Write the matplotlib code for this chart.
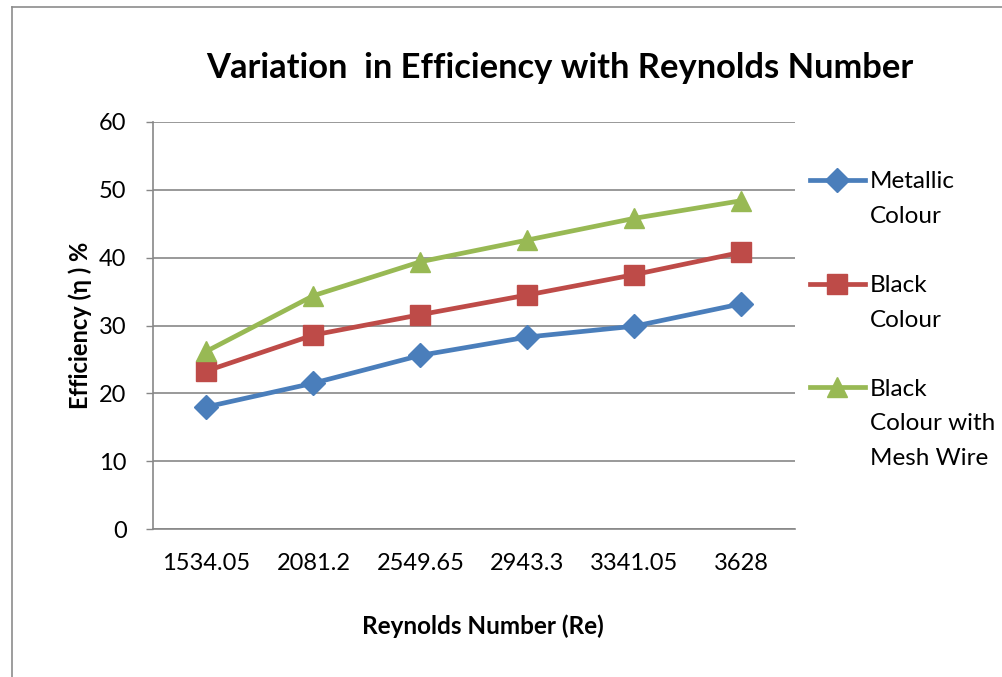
import matplotlib
matplotlib.use("Agg")
import matplotlib.pyplot as plt
from matplotlib.lines import Line2D

reynolds = ["1534.05", "2081.2", "2549.65", "2943.3", "3341.05", "3628"]
metallic = [18.0, 21.5, 25.6, 28.3, 29.9, 33.2]
black = [23.3, 28.6, 31.6, 34.5, 37.5, 40.8]
mesh_wire = [26.2, 34.4, 39.4, 42.6, 45.8, 48.4]

blue = "#4A7EBB"
red = "#BE4B48"
green = "#98B954"
grid_grey = "#878787"

plt.rcParams["font.family"] = ["Lato", "DejaVu Sans"]

fig = plt.figure(figsize=(10.03, 6.77), dpi=100)
ax = fig.add_axes([0.1525, 0.2186, 0.640, 0.6012])

x = list(range(len(reynolds)))
lw = 3.4
ax.plot(x, metallic, color=blue, lw=lw, marker="D", ms=12, zorder=3)
ax.plot(x, black, color=red, lw=lw, marker="s", ms=14, zorder=3)
ax.plot(x, mesh_wire, color=green, lw=lw, marker="^", ms=15, zorder=3)

ax.set_xlim(-0.5, len(reynolds) - 0.5)
ax.set_ylim(0, 60)
ax.set_yticks(range(0, 61, 10))
ax.set_xticks(x)
ax.set_xticklabels(reynolds)
ax.tick_params(axis="x", length=0, pad=17, labelsize=17)
ax.tick_params(axis="y", length=5, width=1, color=grid_grey, pad=14, labelsize=17)
ax.grid(axis="y", color=grid_grey, lw=1.2)
ax.set_axisbelow(True)
for side in ["top", "right"]:
    ax.spines[side].set_visible(False)
for side in ["left", "bottom"]:
    ax.spines[side].set_color(grid_grey)
    ax.spines[side].set_linewidth(1.2)

ax.set_xlabel("Reynolds Number (Re)", fontsize=17.5, fontweight="bold")
ax.xaxis.set_label_coords(0.514, -0.211)
ax.set_ylabel("Efficiency (η ) %", fontsize=17, fontweight="bold", labelpad=5)
fig.text(0.558, 0.899, "Variation  in Efficiency with Reynolds Number",
         fontsize=24.8, fontweight="bold", ha="center", va="center")

# legend: handle aligned with the first line of each label, like Excel
def blank():
    return Line2D([], [], linestyle="none")

handles = [
    Line2D([], [], color=blue, lw=lw, marker="D", ms=12), blank(), blank(),
    Line2D([], [], color=red, lw=lw, marker="s", ms=14), blank(), blank(),
    Line2D([], [], color=green, lw=lw, marker="^", ms=15), blank(), blank(),
]
labels = ["Metallic", "Colour", " ", "Black", "Colour", " ",
          "Black", "Colour with", "Mesh Wire"]
fig.legend(handles, labels, loc="upper left", bbox_to_anchor=(0.8076, 0.7467),
           frameon=False, fontsize=17.5, handlelength=2.26, handletextpad=0.2,
           labelspacing=0.555, borderaxespad=0, borderpad=0)

# page frame around the chart
fig.add_artist(Line2D([12 / 1003, 12 / 1003], [0, 1 - 7 / 677],
                      color="#8c8c8c", lw=1.2, transform=fig.transFigure))
fig.add_artist(Line2D([12 / 1003, 1], [1 - 7 / 677, 1 - 7 / 677],
                      color="#8c8c8c", lw=1.2, transform=fig.transFigure))

fig.savefig("out.png", dpi=100)
